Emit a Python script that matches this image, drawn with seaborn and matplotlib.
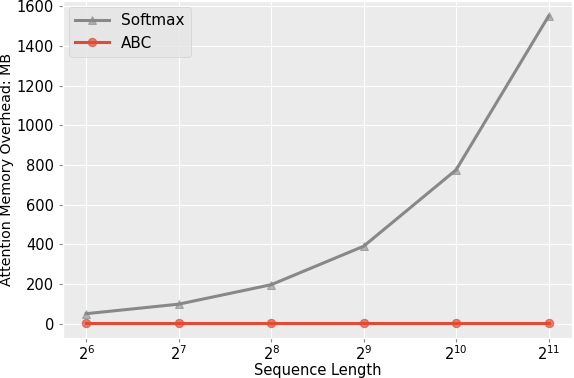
import pandas as pd
import seaborn as sns
import matplotlib.pyplot as plt
from matplotlib.colors import to_rgba

# Data
seq_exp = [6, 7, 8, 9, 10, 11]
softmax_mb = [50, 98, 196, 390, 775, 1550]
abc_mb = [5, 5, 5, 5, 5, 5]

plt.style.use('ggplot')
plt.rcParams['font.family'] = ['DejaVu Sans']

data = pd.DataFrame({
    'SeqLen': [2 ** e for e in seq_exp],
    'Softmax': softmax_mb,
    'ABC': abc_mb,
})

fig, ax = plt.subplots(figsize=(5.74, 3.78), dpi=100)
ax.set_facecolor('#EBEBEB')

grey = '#888888'
red = '#E24A33'
sns.lineplot(data=data, x='SeqLen', y='Softmax', ax=ax, color=grey, marker='^',
             markersize=6, linewidth=2.2, label='Softmax',
             markeredgecolor=to_rgba(grey, 0.6), markerfacecolor=to_rgba(grey, 0.6))
sns.lineplot(data=data, x='SeqLen', y='ABC', ax=ax, color=red, marker='o',
             markersize=6, linewidth=2.2, label='ABC',
             markeredgecolor=to_rgba(red, 0.7), markerfacecolor=to_rgba(red, 0.7))

ax.set_xscale('log', base=2)
ax.set_xticks(data['SeqLen'])
ax.set_xticklabels([f'$2^{{{e}}}$' for e in seq_exp])
ax.set_yticks(range(0, 1601, 200))
ax.tick_params(axis='both', labelsize=10.5, colors='black')
ax.tick_params(axis='both', color='#888888', length=3)
ax.tick_params(axis='x', pad=1.5)
ax.set_xlabel('Sequence Length', fontsize=10.5, color='black', labelpad=0)
ax.set_ylabel('Attention Memory Overhead: MB', fontsize=10.3, color='black', labelpad=2)
ax.legend(loc='upper left', fontsize=11, handlelength=2.2, borderaxespad=0.4)

plt.subplots_adjust(left=0.11, right=0.996, top=0.998, bottom=0.106)
plt.savefig('out.png', dpi=100)
